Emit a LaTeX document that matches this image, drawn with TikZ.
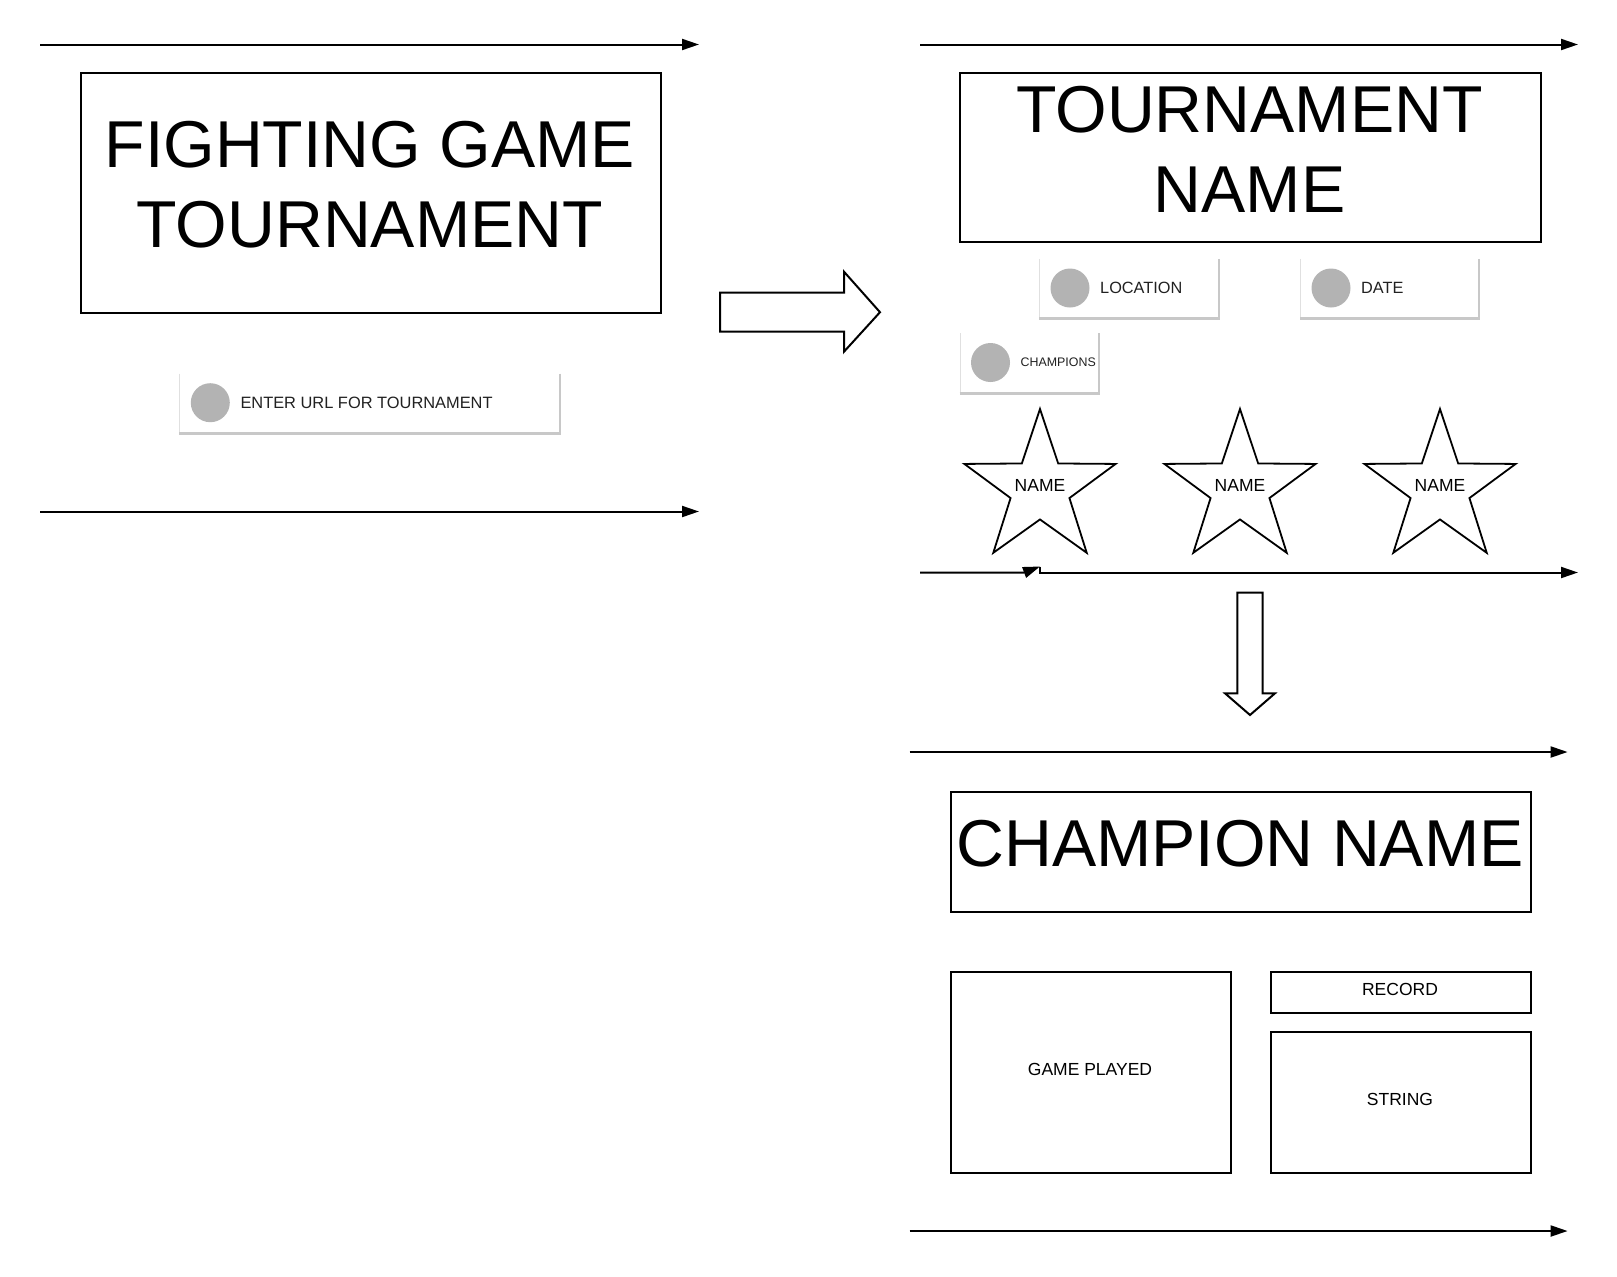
\documentclass[tikz,border=0pt]{standalone}
\usepackage{fontspec}
\setmainfont{Liberation Sans}
\usetikzlibrary{arrows.meta,shapes.geometric}
\definecolor{dotgray}{HTML}{B3B3B3}
\definecolor{shadowgray}{HTML}{C8C8C8}
\definecolor{edgegray}{HTML}{E0E0E0}
\definecolor{txt}{HTML}{212121}
\newcommand\mkbtn[6]{%
  \node[btn, minimum width=#4pt] (#1) at (#2,#3) {};
  \draw[shadowgray, line width=3pt] ([yshift=-1.5pt]#1.south west) -- ([yshift=-1.5pt]#1.south east);
  \draw[edgegray, line width=1pt] ([xshift=0.5pt]#1.north west) -- ([xshift=0.5pt]#1.south west);
  \draw[shadowgray, line width=2pt] ([xshift=-1pt]#1.north east) -- ([xshift=-1pt,yshift=-3pt]#1.south east);
  \node[dot] (#1-dot) at ([xshift=31pt]#1.west) {};
  \node[btntext, font=\fontsize{#6}{#6}\selectfont] (#1-text) at ([xshift=61pt]#1.west) {#5};
}
\begin{document}
\begin{tikzpicture}[x=1pt,y=-1pt,
  conn/.style={line width=2pt, -{Triangle[length=17pt,width=11pt]}},
  frame/.style={draw, line width=2pt, inner sep=0pt, anchor=north west},
  big/.style={font=\fontsize{66.3}{80}\selectfont, align=center, inner sep=0pt},
  small/.style={font=\fontsize{17.5}{21}\selectfont, inner sep=0pt},
  btn/.style={fill=white, inner sep=0pt, minimum height=58pt, anchor=west},
  dot/.style={circle, fill=dotgray, minimum size=39pt, inner sep=0pt},
  btntext/.style={text=txt, inner sep=0pt, anchor=west},
  starnode/.style={star, star points=5, star point ratio=2.57, minimum size=159pt, draw, line width=1.8pt, inner sep=0pt},
  fatarrow/.style={draw, line width=2pt, fill=white, line join=miter}
]
\useasboundingbox (0,0) rectangle (1617,1277);
\fill[white] (0,0) rectangle (1617,1277);

% connectors (lines)
\coordinate (l1a) at (40,44.5);   \coordinate (l1b) at (699,44.5);
\coordinate (l2a) at (40,511.5);  \coordinate (l2b) at (699,511.5);
\coordinate (r1a) at (920,44.5);  \coordinate (r1b) at (1578,44.5);
\coordinate (r2a) at (920,572.5); \coordinate (r2k) at (1024,572.5);
\coordinate (r2m) at (1040,566.5);\coordinate (r2n) at (1040,572.5);
\coordinate (r2b) at (1578,572.5);
\coordinate (r3a) at (909.6,752); \coordinate (r3b) at (1567.6,752);
\coordinate (r4a) at (909.6,1231);\coordinate (r4b) at (1567.6,1231);
\draw[conn] (l1a) -- (l1b);
\draw[conn] (l2a) -- (l2b);
\draw[conn] (r1a) -- (r1b);
\draw[conn] (r2a) -- (r2k) -- (r2m);
\draw[conn] (r2m) -- (r2n) -- (r2b);
\draw[conn] (r3a) -- (r3b);
\draw[conn] (r4a) -- (r4b);

% title boxes
\node[frame, minimum width=579.5pt, minimum height=240pt] (fgbox) at (80,71.5) {};
\node[big] (fgtitle) at (369.75,184.5) {FIGHTING GAME\\TOURNAMENT};
\node[frame, minimum width=581pt, minimum height=169pt] (tnbox) at (959,71.5) {};
\node[big] (tntitle) at (1249.5,149.5) {TOURNAMENT\\NAME};
\node[frame, minimum width=580pt, minimum height=119.5pt] (cnbox) at (950,791) {};
\node[big] (cntitle) at (1240,843.5) {CHAMPION NAME};

% detail boxes
\node[frame, minimum width=280pt, minimum height=201pt] (gamebox) at (950,970.5) {};
\node[small] (gametext) at (1090,1069.5) {GAME PLAYED};
\node[frame, minimum width=260.5pt, minimum height=41.2pt] (recbox) at (1269.5,970.5) {};
\node[small] (rectext) at (1400,989.5) {RECORD};
\node[frame, minimum width=260.5pt, minimum height=140.2pt] (strbox) at (1269.5,1031.3) {};
\node[small] (strtext) at (1400,1099) {STRING};

% buttons
\mkbtn{urlbtn}{179.3}{402.7}{381.4}{ENTER URL FOR TOURNAMENT}{16.4}
\mkbtn{locbtn}{1039}{288}{181}{LOCATION}{16.3}
\mkbtn{datebtn}{1300}{288}{180}{DATE}{16.3}
\mkbtn{champbtn}{959.5}{362.5}{140.5}{CHAMPIONS}{12.4}

% stars
\node[starnode] (s1) at (1040,488.5) {};
\node[small] (s1t) at (1040,485) {NAME};
\node[starnode] (s2) at (1240,488.5) {};
\node[small] (s2t) at (1240,485) {NAME};
\node[starnode] (s3) at (1440,488.5) {};
\node[small] (s3t) at (1440,485) {NAME};

% block arrows
\draw[fatarrow] (720,292.7) -- (844,292.7) -- (844,271.7) -- (880,312.2) -- (844,351.7) -- (844,331.7) -- (720,331.7) -- cycle;
\draw[fatarrow] (1237.3,592.7) -- (1262.7,592.7) -- (1262.7,693.3) -- (1275,693.3) -- (1250,715) -- (1225,693.3) -- (1237.3,693.3) -- cycle;
\end{tikzpicture}
\end{document}
